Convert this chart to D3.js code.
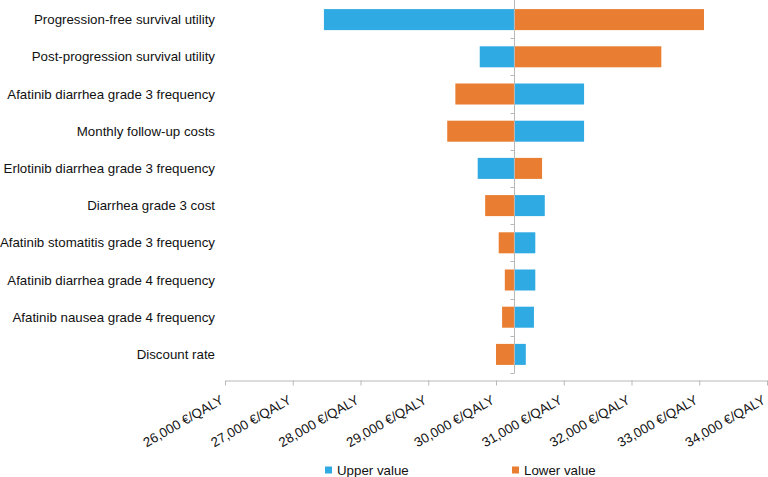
<!DOCTYPE html>
<html>
<head>
<meta charset="utf-8">
<script src="https://cdn.jsdelivr.net/npm/d3@7"></script>
<style>
  html, body { margin: 0; padding: 0; background: #fff; }
  svg { display: block; font-family: "Liberation Sans", Arial, sans-serif; }
</style>
</head>
<body>
<svg id="chart" width="768" height="477"></svg>
<script>
const categories = [
  "Progression-free survival utility",
  "Post-progression survival utility",
  "Afatinib diarrhea grade 3 frequency",
  "Monthly follow-up costs",
  "Erlotinib diarrhea grade 3 frequency",
  "Diarrhea grade 3 cost",
  "Afatinib stomatitis grade 3 frequency",
  "Afatinib diarrhea grade 4 frequency",
  "Afatinib nausea grade 4 frequency",
  "Discount rate"
];
const upperValues = [27460, 29760, 31300, 31300, 29730, 30720, 30580, 30580, 30560, 30440];
const lowerValues = [33070, 32440, 29400, 29280, 30680, 29840, 30040, 30130, 30090, 30000];
const baseValue = 30265;
const tickValues = [26000, 27000, 28000, 29000, 30000, 31000, 32000, 33000, 34000];
const seriesNames = ["Upper value", "Lower value"];
const seriesColors = ["#30aae2", "#e97e33"];

const svg = d3.select("#chart");
const x = d3.scaleLinear().domain([26000, 34000]).range([225, 767]);
const y = d3.scaleBand().domain(categories).range([1, 373]).paddingInner(0.435).paddingOuter(0.2175);
const axisColor = "#b8b8b8";
const textColor = "#111";

// bars
const rows = categories.map((c, i) => ({ c, up: upperValues[i], lo: lowerValues[i] }));
const g = svg.append("g");
[["up", 0], ["lo", 1]].forEach(([key, si]) => {
  g.selectAll("rect.s" + si).data(rows).enter().append("rect")
    .attr("class", "s" + si)
    .attr("x", d => Math.min(x(baseValue), x(d[key])))
    .attr("width", d => Math.abs(x(d[key]) - x(baseValue)))
    .attr("y", d => y(d.c))
    .attr("height", y.bandwidth())
    .attr("fill", seriesColors[si]);
});

// category axis (vertical line at base with ticks at boundaries)
const bx = Math.round(x(baseValue)) + 0.5;
svg.append("line").attr("x1", bx).attr("x2", bx).attr("y1", 0).attr("y2", 373)
  .attr("stroke", axisColor).attr("stroke-width", 1);
const step = y.step();
const boundaries = d3.range(1, categories.length + 1).map(i => 1 + i * step);
svg.selectAll("line.ctick").data(boundaries).enter().append("line")
  .attr("x1", bx - 4).attr("x2", bx).attr("y1", d => Math.round(d) + 0.5).attr("y2", d => Math.round(d) + 0.5)
  .attr("stroke", axisColor);

// category labels
svg.selectAll("text.cat").data(categories).enter().append("text")
  .attr("x", 215).attr("y", d => y(d) + y.bandwidth() / 2)
  .attr("dy", "0.35em").attr("text-anchor", "end")
  .attr("font-size", 13.3).attr("fill", textColor).text(d => d);

// value axis
const xAxis = d3.axisBottom(x).tickValues(tickValues).tickSize(5).tickSizeOuter(0)
  .tickFormat(d => d3.format(",")(d) + " €/QALY");
const ax = svg.append("g").attr("transform", "translate(0,380.5)").call(xAxis);
ax.select(".domain").attr("stroke", axisColor);
ax.selectAll(".tick line").attr("stroke", axisColor);
ax.selectAll(".tick text")
  .attr("font-size", 13.3).attr("fill", textColor).attr("font-family", "Liberation Sans, Arial, sans-serif")
  .attr("text-anchor", "end").attr("y", 0).attr("dy", 0)
  .attr("transform", "translate(-1,22) rotate(-30)");

// legend
const legendX = [325, 512];
const lg = svg.append("g");
seriesNames.forEach((n, i) => {
  lg.append("rect").attr("x", legendX[i]).attr("y", 466.5).attr("width", 7).attr("height", 7).attr("fill", seriesColors[i]);
  lg.append("text").attr("x", legendX[i] + 12).attr("y", 470).attr("dy", "0.35em")
    .attr("font-size", 13.3).attr("fill", textColor).text(n);
});
</script>
</body>
</html>
